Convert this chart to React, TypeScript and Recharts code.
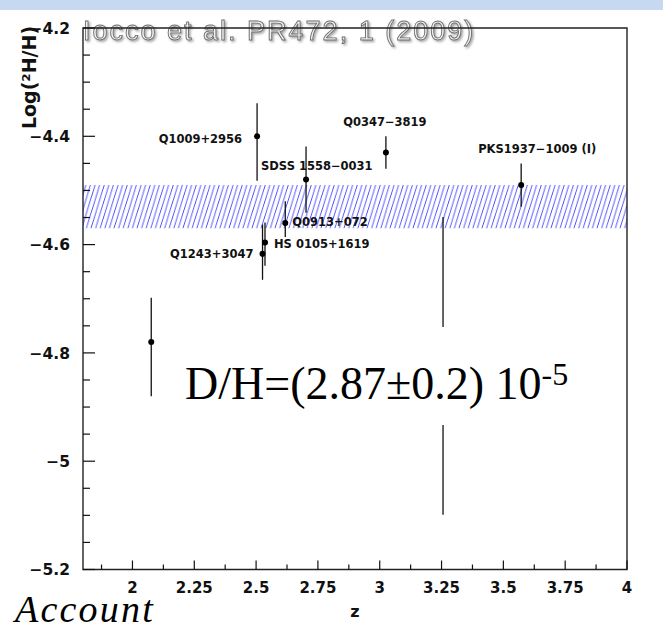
import React from "react";
import { ScatterChart, Scatter, XAxis, YAxis, ErrorBar, ReferenceArea } from "recharts";

// quasar absorbers: redshift, log(D/H) and asymmetric errors [minus, plus]
const sources = ["Q1009+2956", "SDSS 1558−0031", "Q0913+072", "HS 0105+1619", "Q1243+3047", "Q0347−3819", "PKS1937−1009 (I)", "", ""];
const redshifts = [2.504, 2.702, 2.618, 2.536, 2.526, 3.025, 3.572, 2.076, 3.256];
const logDH = [-4.4, -4.48, -4.56, -4.596, -4.617, -4.43, -4.49, -4.78, -4.824];
const errMinus = [0.082, 0.061, 0.026, 0.043, 0.048, 0.03, 0.04, 0.1, 0.275];
const errPlus = [0.061, 0.061, 0.04, 0.037, 0.054, 0.03, 0.04, 0.082, 0.275];

// weighted mean band D/H = (2.87 ± 0.2) 1e-5
const bandLow = -4.57;
const bandHigh = -4.49;

const xMajorTicks = [2, 2.25, 2.5, 2.75, 3, 3.25, 3.5, 3.75, 4];
const xMinorTicks = [1.875, 2.125, 2.375, 2.625, 2.875, 3.125, 3.375, 3.625, 3.875];
const yMajorTicks = [-5.2, -5, -4.8, -4.6, -4.4, -4.2];
const yMinorTicks = [-5.15, -5.1, -5.05, -4.95, -4.9, -4.85, -4.75, -4.7, -4.65, -4.55, -4.5, -4.45, -4.35, -4.3, -4.25];

// label placement relative to the point: [dx, dy, anchor]
const labelPlacement: Record<string, [number, number, string]> = {
  "Q1009+2956": [-15, 2, "end"],
  "SDSS 1558−0031": [-45, -14, "start"],
  "Q0913+072": [7, -1, "start"],
  "HS 0105+1619": [9, 1, "start"],
  "Q1243+3047": [-9, 0, "end"],
  "Q0347−3819": [-1, -31, "middle"],
  "PKS1937−1009 (I)": [16, -36, "middle"],
};

const points = sources.map((name, i) => ({
  name,
  z: redshifts[i],
  logDH: logDH[i],
  err: [errMinus[i], errPlus[i]],
}));

const axisFont = "'DejaVu Sans', sans-serif";
const fmt = (v: number) => (v < 0 ? "−" + Math.abs(v) : String(v));

const YTick = (props: any) => {
  const { x, y, payload } = props;
  const major = yMajorTicks.includes(payload.value);
  return (
    <g>
      <line x1={x} x2={x + (major ? 12 : 7)} y1={y} y2={y} stroke="#111" strokeWidth={1.2} />
      {major && (
        <text x={x - 13} y={y + 5.6} textAnchor="end" fontFamily={axisFont} fontWeight="bold" fontSize={15.5} fill="#111">
          {fmt(payload.value)}
        </text>
      )}
    </g>
  );
};

const XTick = (props: any) => {
  const { x, y, payload } = props;
  const major = xMajorTicks.includes(payload.value);
  return (
    <g>
      <line x1={x} x2={x} y1={y} y2={y - (major ? 9 : 5)} stroke="#111" strokeWidth={1.2} />
      {major && (
        <text x={x} y={y + 23} textAnchor="middle" fontFamily={axisFont} fontWeight="bold" fontSize={15} fill="#111">
          {fmt(payload.value)}
        </text>
      )}
    </g>
  );
};

const PointShape = (props: any) => {
  const { cx, cy, payload } = props;
  const place = labelPlacement[payload.name];
  return (
    <g>
      <circle cx={cx} cy={cy} r={3} fill="#000" />
      {place && (
        <text
          x={cx + place[0]}
          y={cy + place[1] + 4.2}
          textAnchor={place[2] as any}
          fontFamily={axisFont}
          fontWeight="bold"
          fontSize={11.5}
          fill="#111"
        >
          {payload.name}
        </text>
      )}
    </g>
  );
};

export default function App() {
  return (
    <div style={{ position: "absolute", left: 0, top: 0, width: 663, height: 630, background: "#fff", overflow: "hidden" }}>
      <svg width={663} height={630} style={{ position: "absolute", left: 0, top: 0 }}>
        <defs>
          <pattern id="hatch" patternUnits="userSpaceOnUse" width={4.6} height={15}>
            <path d="M-4.6,15 L0,0 M0,15 L4.6,0 M4.6,15 L9.2,0" stroke="#3535ff" strokeWidth={0.85} />
          </pattern>
          <filter id="shadow" x="-5%" y="-20%" width="110%" height="150%">
            <feDropShadow dx={1.5} dy={1.5} stdDeviation={0.8} floodColor="#888" floodOpacity={0.8} />
          </filter>
        </defs>
        <rect x={0} y={0} width={663} height={10} fill="#c6d9f1" />
        <text
          x={83}
          y={40}
          fontFamily="'Liberation Sans', Arial, sans-serif"
          fontSize={27}
          letterSpacing={2}
          fill="#f2f2f2"
          stroke="#6e6e6e"
          strokeWidth={0.9}
          filter="url(#shadow)"
        >
          Iocco et al. PR472, 1 (2009)
        </text>
      </svg>

      <div style={{ position: "absolute", left: 0, top: 0 }}>
        <ScatterChart width={663} height={630} margin={{ top: 28, right: 36, bottom: 0, left: 0 }}>
          <XAxis
            type="number"
            dataKey="z"
            domain={[1.8, 4]}
            ticks={[...xMinorTicks, ...xMajorTicks].sort((a, b) => a - b)}
            interval={0}
            height={60.5}
            tickSize={0}
            tickMargin={0}
            axisLine={false}
            tickLine={false}
            tick={<XTick />}
            allowDataOverflow
          />
          <YAxis
            type="number"
            dataKey="logDH"
            domain={[-5.2, -4.2]}
            ticks={[...yMinorTicks, ...yMajorTicks].sort((a, b) => a - b)}
            interval={0}
            width={83}
            tickSize={0}
            tickMargin={0}
            axisLine={false}
            tickLine={false}
            tick={<YTick />}
            allowDataOverflow
          />
          <ReferenceArea x1={1.8} x2={4} y1={bandLow} y2={bandHigh} fill="url(#hatch)" fillOpacity={1} stroke="none" />
          <ReferenceArea x1={1.8} x2={4} y1={-5.2} y2={-4.2} fill="none" stroke="#222" strokeWidth={1.4} />
          <Scatter data={points} dataKey="logDH" shape={<PointShape />} isAnimationActive={false}>
            <ErrorBar dataKey="err" direction="y" width={0} stroke="#111" strokeWidth={1.3} />
          </Scatter>
        </ScatterChart>
      </div>

      <svg width={663} height={630} style={{ position: "absolute", left: 0, top: 0, pointerEvents: "none" }}>
        <text
          transform="translate(36, 77.5) rotate(-90)"
          textAnchor="middle"
          fontFamily={axisFont}
          fontWeight="bold"
          fontSize={19}
          fill="#111"
        >
          Log(²H/H)
        </text>
        <text x={355} y={617} textAnchor="middle" fontFamily={axisFont} fontWeight="bold" fontSize={16} fill="#111">
          z
        </text>
        <rect x={180} y={327} width={400} height={98} fill="#fff" />
        <text x={185} y={399} fontFamily="'Liberation Serif', 'Times New Roman', serif" fontSize={46} fill="#000">
          D/H=(2.87±0.2) 10
          <tspan dy={-14} fontSize={32}>-5</tspan>
        </text>
        <text
          x={15}
          y={622}
          fontFamily="'Liberation Serif', 'Times New Roman', serif"
          fontStyle="italic"
          fontSize={38}
          letterSpacing={2.2}
          fill="#000"
        >
          Account
        </text>
      </svg>
    </div>
  );
}
